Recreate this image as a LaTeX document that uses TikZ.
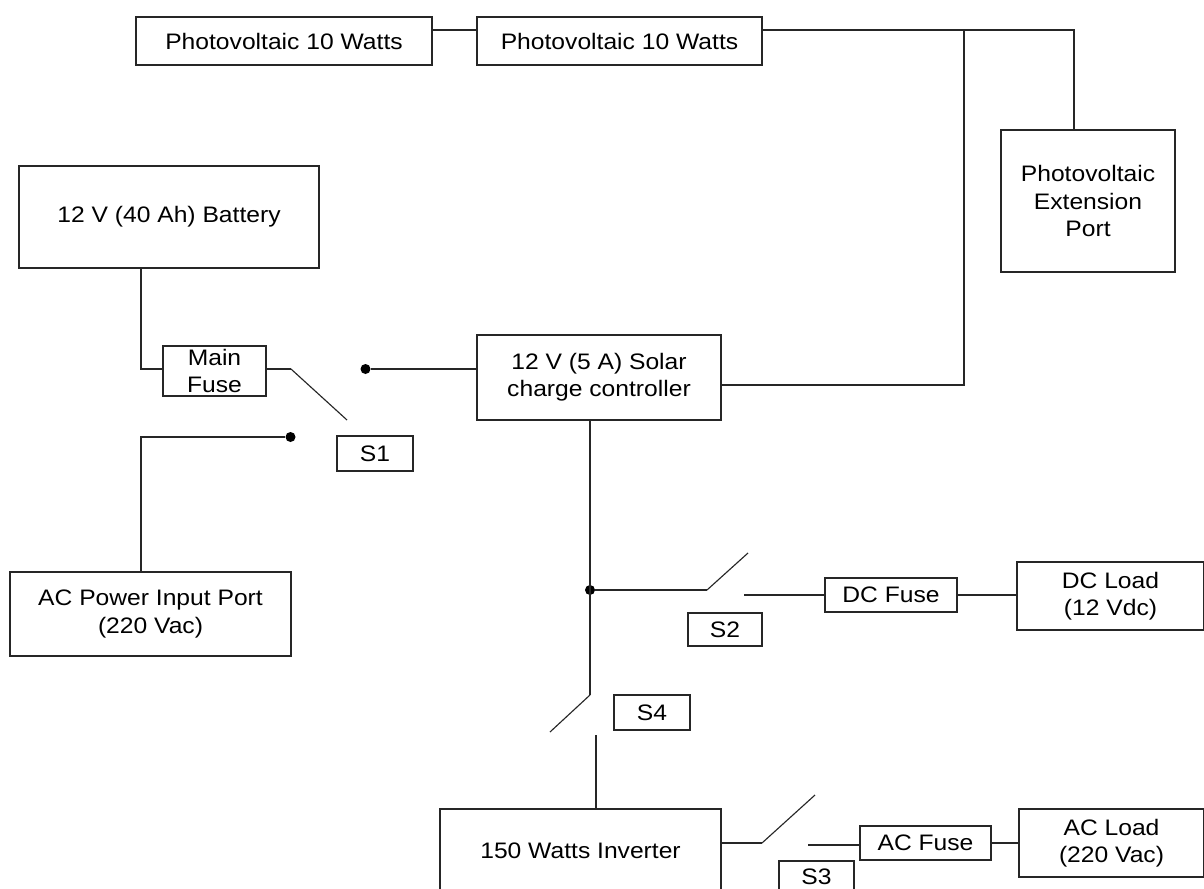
\documentclass[tikz,border=0pt]{standalone}
\usepackage{fontspec}
\setmainfont{Liberation Sans}[FakeStretch=1.1]
\newcommand{\bx}[6]{\node[box,minimum width=#4*0.75pt-#2*0.75pt,minimum height=#5*0.75pt-#3*0.75pt] (#1) at ({(#2+#4)/2},{(#3+#5)/2}) {#6};}
\tikzset{
  x=0.75pt,y=-0.75pt,
  box/.style={draw=black!85,line width=1pt,inner sep=0pt,align=center,font=\fontsize{16.8}{20.5}\selectfont,text=black},
  wire/.style={draw=black!85,line width=1pt,line join=miter},
  thin wire/.style={draw=black!85,line width=0.85pt},
  dotend/.style={circle,fill=black,inner sep=0pt,minimum size=7.5pt}
}
\begin{document}
\begin{tikzpicture}
\useasboundingbox (0,0) rectangle (1204,889);
\clip (0,0) rectangle (1204,889);
\bx{pva}{136}{17}{432}{65}{Photovoltaic 10 Watts}
\bx{pvb}{477}{17}{762}{65}{Photovoltaic 10 Watts}
\bx{bat}{19}{166}{319}{268}{12 V (40 Ah) Battery}
\bx{ext}{1001}{130}{1175}{272}{Photovoltaic\\Extension\\Port}
\bx{ctl}{477}{335}{721}{420}{12 V (5 A) Solar\\charge controller}
\bx{mf}{163}{346}{266}{396}{Main\\Fuse}
\bx{sa}{337}{436}{413}{471}{S1}
\bx{acin}{10}{572}{291}{656}{AC Power Input Port\\(220 Vac)}
\bx{sb}{688}{613}{762}{646}{S2}
\bx{dcf}{825}{578}{957}{612}{DC Fuse}
\bx{dcl}{1017}{562}{1204}{630}{DC Load\\(12 Vdc)}
\bx{sd}{614}{695}{690}{730}{S4}
\bx{inv}{440}{809}{721}{893}{150 Watts Inverter}
\bx{acf}{860}{826}{991}{860}{AC Fuse}
\bx{acl}{1019}{809}{1204}{877}{AC Load\\(220 Vac)}
\bx{sc}{779}{861}{854}{893}{S3}
% coordinates
\coordinate (j1) at (964,30);
\coordinate (j2) at (964,385);
\coordinate (j3) at (1074,30);
\coordinate (s1p) at (291,369);
\coordinate (s1e) at (347,420);
\node[dotend] (d1) at (365.5,369) {};
\node[dotend] (d2) at (290.5,437) {};
\node[dotend] (d3) at (590,590) {};
\coordinate (s2p) at (707,590);
\coordinate (s2e) at (748,553);
\coordinate (s2o) at (744,595);
\coordinate (s4p) at (590,695);
\coordinate (s4e) at (550,732);
\coordinate (s4o) at (596,735);
\coordinate (s3p) at (762,843);
\coordinate (s3e) at (815,795);
\coordinate (s3o) at (808,845);
% wires
\draw[wire] (pva.east|-j1) -- (pvb.west|-j1);
\draw[wire] (pvb.east|-j1) -- (j1) -- (j3) -- (j3|-ext.north);
\draw[wire] (j1) -- (j2) -- (ctl.east|-j2);
\draw[wire] (bat.south-|141,0) -- (141,369) -- (mf.west|-s1p);
\draw[wire] (mf.east|-s1p) -- (s1p);
\draw[thin wire] (s1p) -- (s1e);
\draw[wire] (d1) -- (ctl.west|-d1);
\draw[wire] (d2) -- (141,437) -- (acin.north-|141,0);
\draw[wire] (590,420) -- (s4p);
\draw[wire] (d3) -- (s2p);
\draw[thin wire] (s2p) -- (s2e);
\draw[wire] (s2o) -- (dcf.west|-s2o);
\draw[wire] (dcf.east) -- (dcl.west|-dcf.east);
\draw[thin wire] (s4p) -- (s4e);
\draw[wire] (s4o) -- (inv.north-|s4o);
\draw[wire] (inv.east|-s3p) -- (s3p);
\draw[thin wire] (s3p) -- (s3e);
\draw[wire] (s3o) -- (acf.west|-s3o);
\draw[wire] (acf.east) -- (acl.west|-acf.east);
\end{tikzpicture}
\end{document}
